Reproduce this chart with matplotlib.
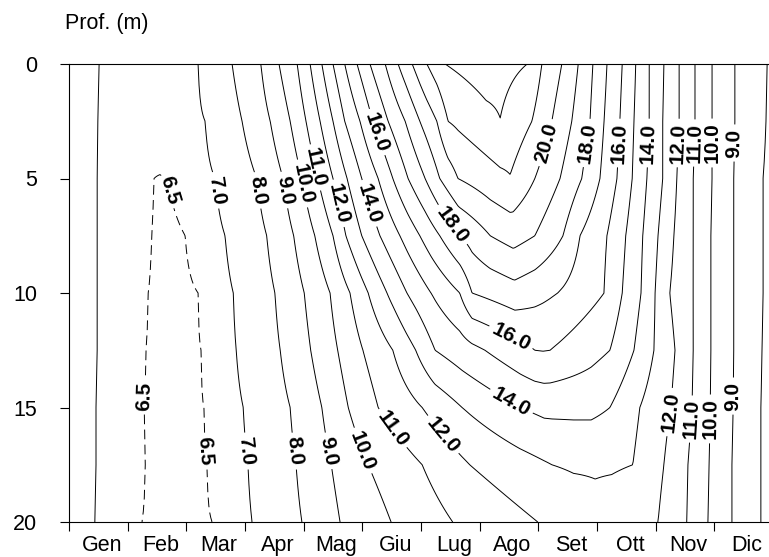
import numpy as np
import matplotlib
matplotlib.use("Agg")
import matplotlib.pyplot as plt

plt.rcParams["font.family"] = ["Liberation Sans", "DejaVu Sans"]

months = ["Gen", "Feb", "Mar", "Apr", "Mag", "Giu", "Lug", "Ago", "Set", "Ott", "Nov", "Dic"]
depth_ticks = [0, 5, 10, 15, 20]

# isotherm levels (°C); the 6.5 level is drawn dashed
levels = [6.5, 7, 8, 9, 10, 11, 12, 13, 14, 15, 16, 17, 18, 19, 20, 21, 22]
labelled = [6.5, 7, 8, 9, 10, 11, 12, 14, 16, 18, 20]

# sampling depths (m)
depths = [0, 2.5, 5, 7.5, 10, 12.5, 15, 17.5, 20]

# temperature along the year at each depth: time (months from 1 Jan) and °C
x_0m = [0, 0.51, 1.38, 2.20, 2.78, 3.27, 3.58, 3.89, 4.11, 4.31, 4.50, 4.70, 4.91, 5.13, 5.39, 5.61,
        5.85, 6.10, 6.41, 7.11, 7.81, 8.06, 8.40, 8.68, 8.93, 9.17, 9.43, 9.66, 9.89, 10.14, 10.40,
        10.67, 10.96, 11.35, 11.90, 12]
t_0m = [7.3, 7, 6.8, 7, 8, 9, 10, 11, 12, 13, 14, 15, 16, 17, 18, 19,
        20, 21, 22, 22.5, 22, 21, 20, 19, 18, 17, 16, 15, 14, 13, 12,
        11, 10, 9, 8, 7.8]

x_2m5 = [0, 0.49, 1.47, 2.32, 2.95, 3.43, 3.77, 4.04, 4.28, 4.50, 4.70, 4.96, 5.18, 5.44, 5.73, 5.98,
         6.27, 6.46, 7.35, 7.89, 8.23, 8.57, 8.88, 9.12, 9.39, 9.63, 9.89, 10.12, 10.40,
         10.67, 10.96, 11.35, 11.88, 12]
t_2m5 = [7.3, 7, 6.6, 7, 8, 9, 10, 11, 12, 13, 14, 15, 16, 17, 18, 19,
         20, 21, 21.98, 21, 20, 19, 18, 17, 16, 15, 14, 13, 12,
         11, 10, 9, 8, 7.8]

x_5m = [0, 0.48, 1.45, 1.55, 1.67, 2.49, 3.20, 3.65, 3.97, 4.24, 4.50, 4.74, 4.99, 5.27, 5.52, 5.78,
        6.07, 6.32, 6.63, 7.52, 7.94, 8.37, 8.74, 9.05, 9.34, 9.60, 9.85, 10.12, 10.36, 10.64, 10.96,
        11.33, 11.83, 12]
t_5m = [7.3, 7, 6.5, 6.49, 6.5, 7, 8, 9, 10, 11, 12, 13, 14, 15, 16, 17,
        18, 19, 20, 20.95, 20, 19, 18, 17, 16, 15, 14, 13, 12, 11, 10,
        9, 8, 7.8]

x_7m5 = [0, 0.48, 1.41, 1.69, 1.98, 2.66, 3.37, 3.83, 4.19, 4.50, 4.72, 4.99, 5.30, 5.64, 5.98, 6.32,
         6.66, 7.18, 7.57, 7.94, 8.42, 8.71, 9.17, 9.49, 9.78, 10.04, 10.31, 10.64, 10.94, 11.33, 11.83, 12]
t_7m5 = [7.3, 7, 6.5, 6.4, 6.5, 7, 8, 9, 10, 11, 12, 13, 14, 15, 16, 17,
         18, 19, 19.4, 19, 18, 17, 16, 15, 14, 13, 12, 11, 10, 9, 8, 7.8]

x_10m = [0, 0.48, 1.35, 1.77, 2.20, 2.80, 3.51, 4.01, 4.45, 4.79, 5.10, 5.42, 5.76, 6.17, 6.66, 6.87,
         7.60, 8.33, 9.12, 9.43, 9.75, 9.99, 10.24, 10.64, 10.94, 11.33, 11.83, 12]
t_10m = [7.3, 7, 6.5, 6.4, 6.5, 7, 8, 9, 10, 11, 12, 13, 14, 15, 16, 17,
         17.6, 17, 16, 15, 14, 13, 12, 11, 10, 9, 8, 7.8]

x_12m5 = [0, 0.48, 1.31, 1.77, 2.25, 2.85, 3.60, 4.12, 4.58, 5.01, 5.52, 5.91, 6.24, 7.09, 7.94, 8.08,
          8.20, 9.22, 9.63, 9.97, 10.33, 10.64, 10.94, 11.33, 11.81, 12]
t_12m5 = [7.3, 7, 6.5, 6.4, 6.5, 7, 8, 9, 10, 11, 12, 13, 14, 15, 16, 16.03,
          16, 15, 14, 13, 12, 11, 10, 9, 8, 7.8]

x_15m = [0, 0.46, 1.28, 1.79, 2.30, 2.97, 3.77, 4.31, 4.76, 5.27, 6.02, 6.70, 7.69, 8.10, 8.90, 9.22,
         9.73, 10.26, 10.62, 10.93, 11.32, 11.79, 12]
t_15m = [7.3, 7, 6.5, 6.4, 6.5, 7, 8, 9, 10, 11, 12, 13, 14, 14.25, 14.25, 14,
         13, 12, 11, 10, 9, 8, 7.8]

x_17m5 = [0, 0.46, 1.30, 1.82, 2.35, 3.05, 3.87, 4.47, 5.10, 6.02, 6.83, 8.23, 8.60, 9.25, 9.61, 10.14,
          10.55, 10.91, 11.30, 11.79, 12]
t_17m5 = [7.3, 7, 6.5, 6.4, 6.5, 7, 8, 9, 10, 11, 12, 13, 13.1, 13.1, 13, 12,
          11, 10, 9, 8, 7.8]

x_20m = [0, 0.44, 1.24, 1.84, 2.44, 3.12, 3.97, 4.62, 5.49, 6.54, 7.99, 8.97, 10.04, 10.53, 10.89, 11.30,
         11.79, 12]
t_20m = [7.3, 7, 6.5, 6.4, 6.5, 7, 8, 9, 10, 11, 12, 12.7, 12, 11, 10, 9,
         8, 7.8]

profiles = [(x_0m, t_0m), (x_2m5, t_2m5), (x_5m, t_5m), (x_7m5, t_7m5), (x_10m, t_10m),
            (x_12m5, t_12m5), (x_15m, t_15m), (x_17m5, t_17m5), (x_20m, t_20m)]

# regular time axis for the temperature field
time = np.linspace(0, 12, 721)
field = np.vstack([np.interp(time, xs, ts) for xs, ts in profiles])

fig = plt.figure(figsize=(7.69, 5.57), dpi=100)
ax = fig.add_axes([69 / 769, 35 / 557, 704 / 769, 458 / 557])

# depth grows downwards; set before labelling so label angles follow the final axes
ax.set_xlim(0, 12)
ax.set_ylim(20, 0)

# where the isotherm values are written (month, depth)
label_spots = {
    6.5: [(1.74, 5.5), (1.30, 14.5), (2.35, 16.9)],
    7: [(2.54, 5.5), (3.03, 16.9)],
    8: [(3.26, 5.5), (3.85, 16.9)],
    9: [(3.68, 5.5), (4.41, 16.9), (11.35, 3.45), (11.30, 14.5)],
    10: [(4.02, 5.2), (4.99, 16.9), (10.96, 3.45), (10.93, 15.5)],
    11: [(4.23, 4.5), (5.47, 16.0), (10.67, 3.45), (10.58, 15.5)],
    12: [(4.57, 6.1), (6.32, 16.3), (10.38, 3.45), (10.24, 15.2)],
    14: [(5.10, 6.1), (7.55, 14.7), (9.87, 3.45)],
    16: [(5.22, 3.0), (7.52, 12.0), (9.36, 3.45)],
    18: [(6.49, 7.1), (8.83, 3.45)],
    20: [(8.15, 3.45)],
}

plain = [lev for lev in levels if lev not in labelled]
ax.contour(time, depths, field, levels=plain, colors="black", linewidths=0.7)

for lev in labelled:
    style = (0, (10, 5.5)) if lev == 6.5 else "solid"
    cs = ax.contour(time, depths, field, levels=[lev], colors="black",
                    linewidths=0.7, linestyles=[style])
    texts = ax.clabel(cs, manual=label_spots[lev], fmt="%.1f",
                      fontsize=15, inline=True, inline_spacing=4)
    for txt in texts:
        txt.set_fontweight("bold")
        txt.set_color("black")

ax.set_yticks(depth_ticks)
ax.set_yticklabels([str(d) for d in depth_ticks])
ax.set_xticks(np.arange(13))
ax.set_xticklabels([])
ax.set_xticks(np.arange(12) + 0.56, minor=True)
ax.set_xticklabels(months, minor=True)

ax.tick_params(axis="y", direction="out", length=6.5, width=0.8, pad=16.5,
               labelsize=15.5, colors="black")
ax.tick_params(axis="x", which="major", direction="out", length=6.5, width=0.8)
ax.tick_params(axis="x", which="minor", length=0, pad=9.5, labelsize=15.5)

for side in ("left", "top", "bottom"):
    ax.spines[side].set_linewidth(0.8)
ax.spines["right"].set_visible(False)

fig.text(65 / 769, 1 - 29 / 557, "Prof. (m)", fontsize=15.5, ha="left", va="baseline")

fig.savefig("out.png", dpi=100)
